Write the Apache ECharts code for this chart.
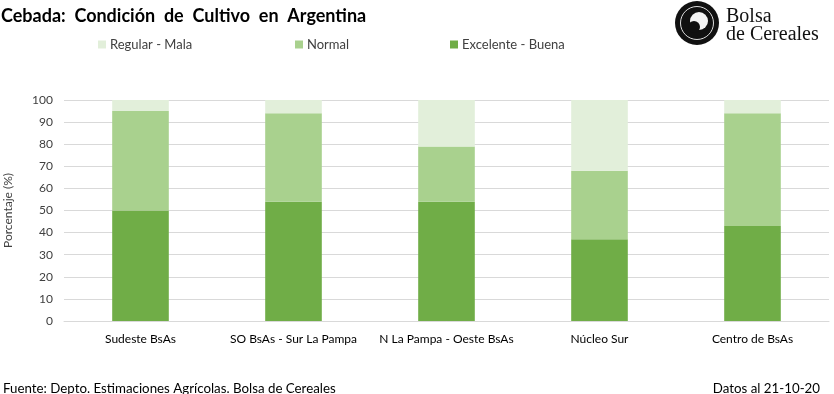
<!DOCTYPE html>
<html>
<head>
<meta charset="utf-8">
<script src="https://cdn.jsdelivr.net/npm/echarts@6/dist/echarts.min.js"></script>
<style>
html,body{margin:0;padding:0;background:#fff;}
#chart{width:834px;height:394px;}
</style>
</head>
<body>
<div id="chart"></div>
<script>
const categories = ['Sudeste BsAs', 'SO BsAs - Sur La Pampa', 'N La Pampa - Oeste BsAs', 'Núcleo Sur', 'Centro de BsAs'];
const excelenteBuena = [50, 54, 54, 37, 43];
const normal = [45, 40, 25, 31, 51];
const regularMala = [5, 6, 21, 32, 6];
const yTicks = [0, 10, 20, 30, 40, 50, 60, 70, 80, 90, 100];

const FONT = 'Lato, "Open Sans", sans-serif';
const cDark = '#70AD47', cMid = '#A9D18E', cLight = '#E2EFDA';

const chart = echarts.init(document.getElementById('chart'), null, {renderer: 'canvas'});

function legendItem(name, color, left) {
  return {
    data: [{name: name, itemStyle: {color: color}}],
    left: left, top: 38,
    padding: 0,
    itemWidth: 8, itemHeight: 8, itemGap: 4,
    icon: 'rect',
    selectedMode: false,
    textStyle: {fontFamily: FONT, fontSize: 13, color: '#404040', padding: [0, 0, 0, -1]}
  };
}

const option = {
  animation: false,
  backgroundColor: '#fff',
  title: {
    text: 'Cebada:  Condición  de  Cultivo  en  Argentina',
    left: 1, top: 7, padding: 0,
    textStyle: {fontFamily: FONT, fontSize: 18, fontWeight: 'bold', color: '#000'}
  },
  legend: [
    legendItem('Regular - Mala', cLight, 98),
    legendItem('Normal', cMid, 295),
    legendItem('Excelente - Buena', cDark, 450)
  ],
  grid: {left: 64, right: 5, top: 100, bottom: 73, outerBoundsMode: 'none', containLabel: false},
  xAxis: {
    type: 'category',
    data: categories,
    axisLine: {show: true, lineStyle: {color: '#d9d9d9', width: 1}},
    axisTick: {show: false},
    axisLabel: {interval: 0, fontFamily: FONT, fontSize: 12, color: '#000', margin: 12}
  },
  yAxis: {
    type: 'value',
    min: 0, max: 100, interval: 10,
    name: 'Porcentaje (%)',
    nameLocation: 'middle',
    nameRotate: 90,
    nameGap: 50,
    nameTextStyle: {fontFamily: FONT, fontSize: 12, color: '#404040'},
    axisLine: {show: false},
    axisTick: {show: false},
    axisLabel: {fontFamily: FONT, fontSize: 12, color: '#404040', margin: 11,
      formatter: v => yTicks.includes(v) ? String(v) : ''},
    splitLine: {lineStyle: {color: '#d9d9d9', width: 1}}
  },
  series: [
    {name: 'Excelente - Buena', type: 'bar', stack: 'a', data: excelenteBuena, barWidth: '37%',
      itemStyle: {color: cDark}},
    {name: 'Normal', type: 'bar', stack: 'a', data: normal, barWidth: '37%',
      itemStyle: {color: cMid}},
    {name: 'Regular - Mala', type: 'bar', stack: 'a', data: regularMala, barWidth: '37%',
      itemStyle: {color: cLight}}
  ],
  graphic: [
    {type: 'text', left: 3, top: 382,
      style: {text: 'Fuente: Depto. Estimaciones Agrícolas. Bolsa de Cereales', fontFamily: FONT, fontSize: 13.3, fill: '#000'}},
    {type: 'text', right: 14, top: 382,
      style: {text: 'Datos al 21-10-20', fontFamily: FONT, fontSize: 13.3, fill: '#000'}},
    {type: 'circle', shape: {cx: 697, cy: 23, r: 22}, style: {fill: '#111'}},
    {type: 'circle', shape: {cx: 697, cy: 23, r: 16.5}, style: {fill: 'none', stroke: '#ddd', lineWidth: 1}},
    {type: 'circle', shape: {cx: 699, cy: 21, r: 9}, style: {fill: '#f4f4f4'}},
    {type: 'circle', shape: {cx: 694, cy: 27, r: 6}, style: {fill: '#111'}},
    {type: 'text', left: 726, top: 7,
      style: {text: 'Bolsa', fontFamily: '"Liberation Serif", "DejaVu Serif", serif', fontSize: 20, fill: '#111'}},
    {type: 'text', left: 726, top: 25,
      style: {text: 'de Cereales', fontFamily: '"Liberation Serif", "DejaVu Serif", serif', fontSize: 20, fill: '#111'}}
  ]
};
chart.setOption(option);
</script>
</body>
</html>
